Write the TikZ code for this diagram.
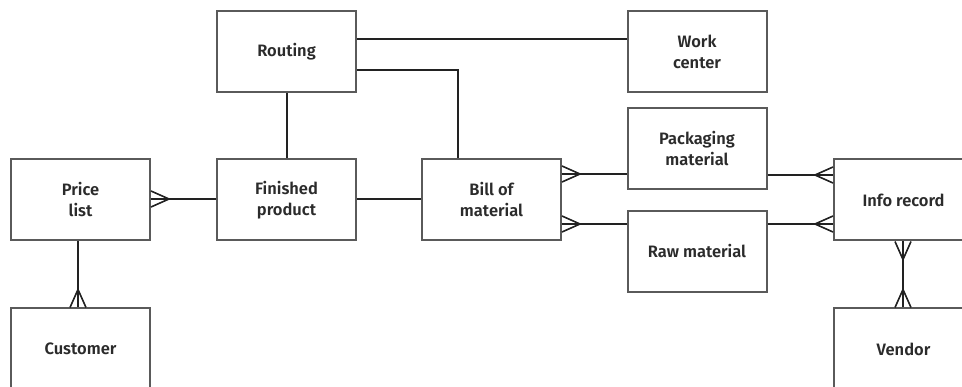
\documentclass[tikz,border=0pt]{standalone}
\usepackage{fontspec}
\setmainfont{Fira Sans}[BoldFont={Fira Sans SemiBold}]
\usetikzlibrary{calc}
\definecolor{boxline}{HTML}{5A5A5A}
\definecolor{connline}{HTML}{222222}
\definecolor{txt}{HTML}{2B2B2B}
\tikzset{
  entity/.style={draw=boxline, line width=2pt, fill=white, minimum width=139pt,
    minimum height=81pt, align=center, text=txt,
    font=\fontsize{16.5pt}{21pt}\selectfont\bfseries, inner sep=0pt},
  conn/.style={draw=connline, line width=2.6pt},
  foot/.style={draw=connline, line width=1.6pt}
}
% crow's foot: three prongs meeting 18 units out from the box edge
\newcommand\crowfoot[2]{%
  \draw[foot] ($(#1)+(#2:18)$) -- ($(#1)+(#2+90:8)$)
              ($(#1)+(#2:18)$) -- ($(#1)+(#2-90:8)$);}
\begin{document}
\begin{tikzpicture}[x=1pt, y=-1pt]
\useasboundingbox (0,0) rectangle (962,387);
\clip (0,0) rectangle (962,387);

% entities
\node[entity] (routing) at (286.5,51.5) {Routing};
\node[entity] (work)    at (697,51.5)   {Work\\center};
\node[entity] (price)   at (80.5,200)   {Price\\list};
\node[entity] (fin)     at (286.5,200)  {Finished\\product};
\node[entity] (bom)     at (491.5,199.5){Bill of\\material};
\node[entity] (pack)    at (697,148.5)  {Packaging\\material};
\node[entity] (raw)     at (697,251.5)  {Raw material};
\node[entity] (info)    at (903.5,200)  {Info record};
\node[entity] (vendor)  at (903.5,349)  {Vendor};
\node[entity] (cust)    at (80.5,349)   {Customer};

% attachment points
\coordinate (r1) at (routing.east |- 0,39);
\coordinate (r2) at (routing.east |- 0,70);
\coordinate (rb) at (routing.south -| 287,0);
\coordinate (pf) at (price.east |- 0,199);
\coordinate (bp) at (bom.east |- 0,174);
\coordinate (br) at (bom.east |- 0,224);
\coordinate (ip) at (info.west |- 0,175);
\coordinate (ir) at (info.west |- 0,224);
\coordinate (pc) at (price.south -| 78,0);
\coordinate (cc) at (cust.north -| 78,0);
\coordinate (iv) at (info.south -| 903,0);
\coordinate (vi) at (vendor.north -| 903,0);

% connectors
\draw[conn] (r1) -- (work.west |- r1);
\draw[conn] (r2) -| (bom.north -| 458,0);
\draw[conn] (rb) -- (fin.north -| rb);
\draw[conn] (pf) -- (fin.west |- pf);
\draw[conn] (fin.east |- 0,199) -- (bom.west |- 0,199);
\draw[conn] (bp) -- (pack.west |- bp);
\draw[conn] (br) -- (raw.west |- br);
\draw[conn] (pack.east |- ip) -- (ip);
\draw[conn] (raw.east |- ir) -- (ir);
\draw[conn] (pc) -- (cc);
\draw[conn] (iv) -- (vi);

% many-side markers
\crowfoot{pf}{0}
\crowfoot{bp}{0}
\crowfoot{br}{0}
\crowfoot{ip}{180}
\crowfoot{ir}{180}
\crowfoot{cc}{-90}
\crowfoot{iv}{90}
\crowfoot{vi}{-90}
\end{tikzpicture}
\end{document}
